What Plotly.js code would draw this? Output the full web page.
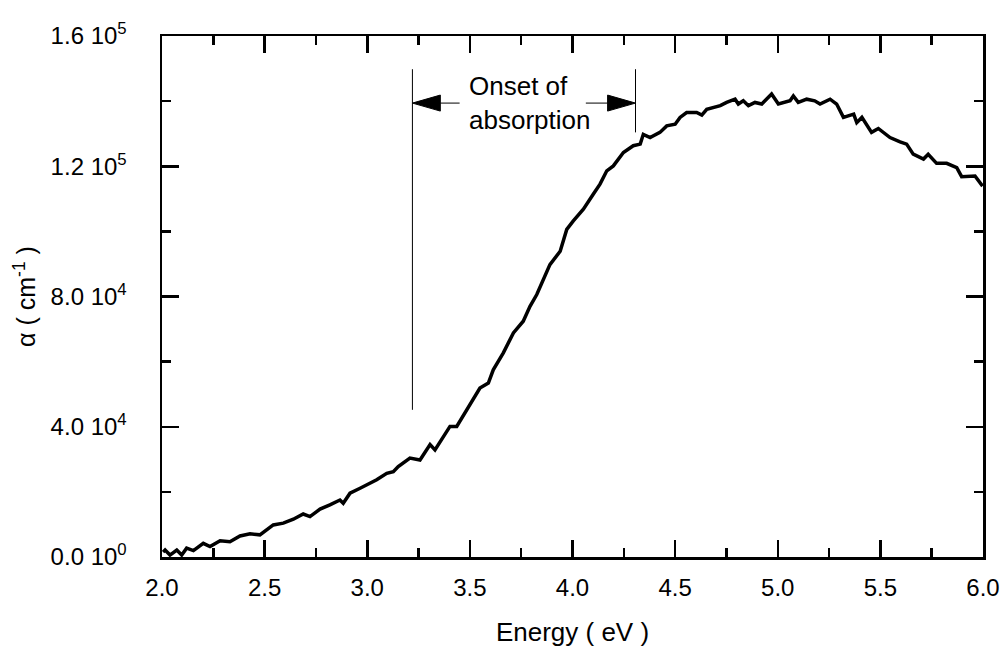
<!DOCTYPE html>
<html>
<head>
<meta charset="utf-8">
<script src="https://cdn.plot.ly/plotly-3.0.1.min.js"></script>
<style>html,body{margin:0;padding:0;background:#fff;}#chart{width:1004px;height:647px;}</style>
</head>
<body>
<div id="chart"></div>
<script>
// Photon energy (eV)
const energy = [2.005,2.015,2.039,2.072,2.096,2.12,2.153,2.201,2.234,2.283,
  2.331,2.38,2.429,2.477,2.542,2.591,2.64,2.688,2.721,2.77,
  2.818,2.867,2.883,2.916,2.965,3.013,3.046,3.095,3.127,3.151,
  3.208,3.257,3.306,3.33,3.379,3.403,3.436,3.50,3.549,3.59,
  3.614,3.663,3.712,3.76,3.793,3.826,3.858,3.89,3.94,3.972,
  4.004,4.053,4.101,4.134,4.167,4.199,4.248,4.296,4.33,4.345,
  4.378,4.426,4.459,4.50,4.524,4.556,4.605,4.63,4.654,4.686,
  4.72,4.751,4.792,4.808,4.832,4.857,4.889,4.922,4.97,5.003,
  5.06,5.076,5.10,5.141,5.18,5.206,5.255,5.287,5.32,5.37,
  5.385,5.41,5.457,5.49,5.547,5.596,5.628,5.66,5.71,5.733,
  5.774,5.823,5.872,5.896,5.961,5.998];
// Absorption coefficient alpha (cm^-1)
const alpha = [1500,2150,600,2150,600,2700,1950,4200,3200,5000,
  4700,6450,7100,6800,9850,10400,11600,13200,12400,14700,
  16000,17500,16500,19600,21100,22700,23700,25700,26200,27800,
  30400,29800,34500,32900,37500,40100,40100,46800,51900,53400,
  57500,62700,68800,72400,77000,80600,85200,89800,93900,100600,
  103200,106800,111400,114500,118600,120100,124200,126300,126800,129800,
  128800,130400,132400,132900,135000,136500,136500,135700,137500,138100,
  138600,139600,140600,139100,140100,138600,139600,139100,142200,139100,
  140100,141600,139600,140600,140100,139100,140600,139100,135000,136000,
  133400,135000,130400,131600,128800,127500,126800,123700,122200,123700,
  120900,120900,119600,116800,117000,113900];

const xTickVals = [2.0,2.5,3.0,3.5,4.0,4.5,5.0,5.5,6.0];
const xTickText = ["2.0","2.5","3.0","3.5","4.0","4.5","5.0","5.5","6.0"];
const yTickVals = [0,40000,80000,120000,160000];
const yTickText = ["0.0 10<sup>0</sup>","4.0 10<sup>4</sup>","8.0 10<sup>4</sup>","1.2 10<sup>5</sup>","1.6 10<sup>5</sup>"];

// Onset-of-absorption marker
const onsetStart = 3.22, onsetEnd = 4.307;
const onsetLineTop = 149800, onsetLeftBottom = 45200, onsetRightBottom = 130400;
const arrowY = 139400;
const arrowTailLeft = 3.45, arrowTailRight = 4.065;
const headLen = 0.136, headHalf = 2460;
const labelX = 3.79;

const FONT = "Liberation Sans, Arial, Helvetica, sans-serif";

const trace = {
  x: energy, y: alpha, type: 'scatter', mode: 'lines',
  line: {color: '#000', width: 3.5}, hoverinfo: 'skip'
};

const layout = {
  width: 1004, height: 647,
  margin: {l: 162, r: 21, t: 36, b: 90},
  paper_bgcolor: '#fff', plot_bgcolor: '#fff',
  showlegend: false,
  font: {family: FONT, color: '#000', size: 24},
  xaxis: {
    range: [2, 6], showgrid: false, zeroline: false,
    showline: true, linecolor: '#000', linewidth: 2.5, mirror: 'ticks',
    ticks: 'inside', ticklen: 17, tickwidth: 2.5, tickcolor: '#000',
    tickvals: xTickVals, ticktext: xTickText, ticklabelstandoff: 8,
    tickfont: {family: FONT, size: 24, color: '#000'},
    minor: {ticks: 'inside', ticklen: 9, tickwidth: 2.5, tickcolor: '#000', dtick: 0.25, tick0: 2, showgrid: false},
    title: {text: 'Energy ( eV )', font: {family: FONT, size: 26, color: '#000'}, standoff: 26}
  },
  yaxis: {
    range: [0, 160000], showgrid: false, zeroline: false,
    showline: true, linecolor: '#000', linewidth: 2.5, mirror: 'ticks',
    ticks: 'inside', ticklen: 17, tickwidth: 2.5, tickcolor: '#000',
    tickvals: yTickVals, ticktext: yTickText, ticklabelstandoff: 28,
    tickfont: {family: FONT, size: 24, color: '#000'},
    minor: {ticks: 'inside', ticklen: 9, tickwidth: 2.5, tickcolor: '#000', dtick: 20000, tick0: 0, showgrid: false},
    title: {text: 'α ( cm<sup>-1</sup> )', font: {family: FONT, size: 25, color: '#000'}, standoff: 8}
  },
  shapes: [
    {type: 'line', xref: 'x', yref: 'y', x0: onsetStart, x1: onsetStart, y0: onsetLeftBottom, y1: onsetLineTop, line: {color: '#000', width: 1}},
    {type: 'line', xref: 'x', yref: 'y', x0: onsetEnd, x1: onsetEnd, y0: onsetRightBottom, y1: onsetLineTop, line: {color: '#000', width: 1}},
    {type: 'line', xref: 'x', yref: 'y', x0: onsetStart + headLen, x1: arrowTailLeft, y0: arrowY, y1: arrowY, line: {color: '#000', width: 1}},
    {type: 'line', xref: 'x', yref: 'y', x0: arrowTailRight, x1: onsetEnd - headLen, y0: arrowY, y1: arrowY, line: {color: '#000', width: 1}},
    {type: 'path', xref: 'x', yref: 'y',
     path: `M ${onsetStart},${arrowY} L ${onsetStart + headLen},${arrowY + headHalf} L ${onsetStart + headLen},${arrowY - headHalf} Z`,
     fillcolor: '#000', line: {color: '#000', width: 1}},
    {type: 'path', xref: 'x', yref: 'y',
     path: `M ${onsetEnd},${arrowY} L ${onsetEnd - headLen},${arrowY + headHalf} L ${onsetEnd - headLen},${arrowY - headHalf} Z`,
     fillcolor: '#000', line: {color: '#000', width: 1}}
  ],
  annotations: [
    {x: labelX, y: arrowY, xref: 'x', yref: 'y',
     text: 'Onset of<br>absorption', showarrow: false, align: 'left',
     font: {family: FONT, size: 26, color: '#000'}}
  ]
};

Plotly.newPlot('chart', [trace], layout, {displayModeBar: false, staticPlot: true});
</script>
</body>
</html>
